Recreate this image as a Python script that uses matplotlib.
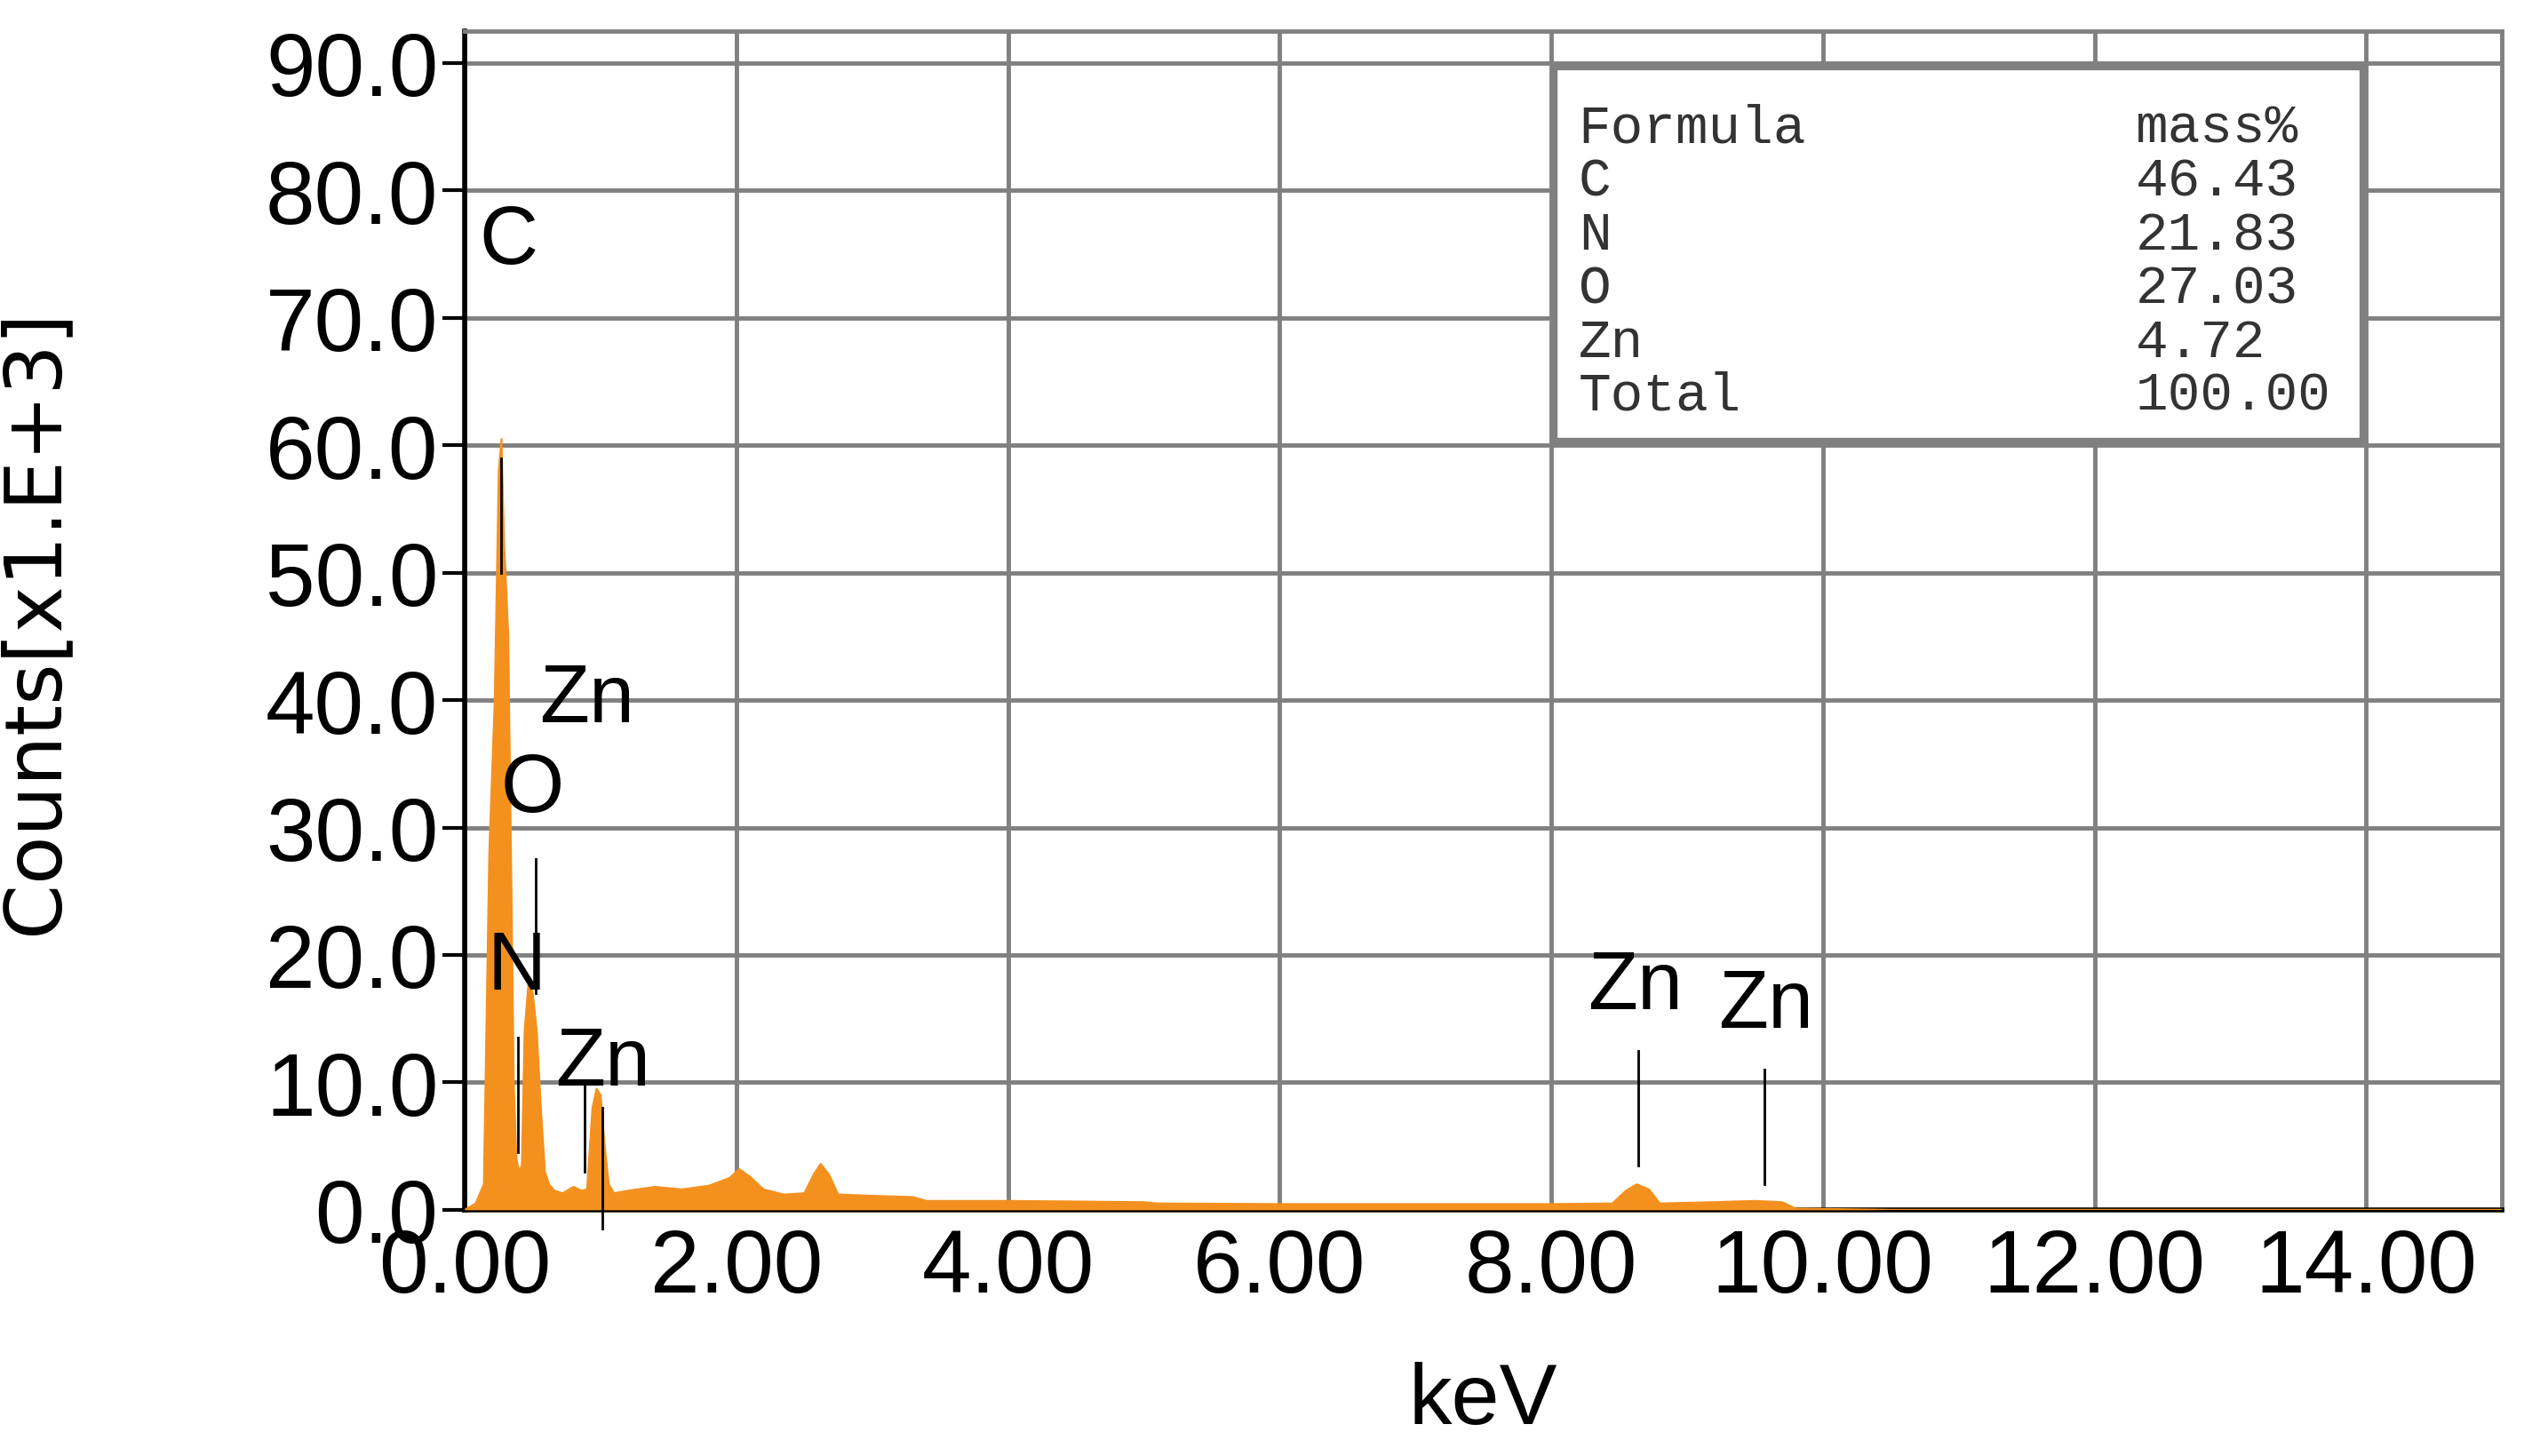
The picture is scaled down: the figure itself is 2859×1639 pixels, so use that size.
import matplotlib
matplotlib.use("Agg")
import matplotlib.pyplot as plt
import numpy as np

energy = [0.0, 0.08, 0.14, 0.18, 0.22, 0.25, 0.27, 0.29, 0.30, 0.32, 0.34, 0.36, 0.38, 0.40, 0.42, 0.44,
          0.47, 0.50, 0.53, 0.56, 0.59, 0.62, 0.66, 0.72, 0.80, 0.86, 0.90, 0.94, 0.97, 1.00, 1.03, 1.06,
          1.10, 1.20, 1.40, 1.60, 1.80, 1.95, 2.02, 2.10, 2.20, 2.35, 2.50, 2.57, 2.62, 2.68, 2.75, 3.00,
          3.30, 3.40, 4.00, 5.00, 5.10, 6.00, 7.00, 8.00, 8.45, 8.55, 8.63, 8.72, 8.80, 9.20, 9.50, 9.70,
          9.80, 10.5, 15.0]
counts = [0.0, 0.5, 2.0, 28.0, 40.0, 58.0, 60.5, 52.0, 50.0, 45.0, 28.0, 10.0, 4.0, 3.0, 3.5, 14.0,
          18.0, 17.0, 14.0, 8.0, 3.0, 2.0, 1.5, 1.3, 1.8, 1.5, 1.6, 8.0, 9.5, 9.0, 5.0, 2.0,
          1.3, 1.5, 1.8, 1.6, 1.9, 2.5, 3.2, 2.6, 1.6, 1.2, 1.3, 2.8, 3.6, 2.8, 1.2, 1.1,
          1.0, 0.7, 0.7, 0.6, 0.5, 0.45, 0.45, 0.45, 0.5, 1.5, 2.0, 1.6, 0.5, 0.6, 0.7, 0.6,
          0.1, 0.0, 0.0]

marker_x = [0.27, 0.39, 0.52, 0.88, 1.01, 8.64, 9.57]
marker_top = [59.0, 13.5, 27.5, 10.0, 8.0, 12.5, 11.0]
marker_bot = [50.0, 4.5, 17.0, 3.0, -1.5, 3.5, 2.0]
label_text = ["C", "Zn", "O", "N", "Zn", "Zn", "Zn"]
label_x = [0.32, 0.90, 0.50, 0.38, 1.02, 8.62, 9.58]
label_y = [76.0, 40.0, 33.0, 19.0, 11.5, 17.5, 16.0]

table_formula = ["Formula", "C", "N", "O", "Zn", "Total"]
table_mass = ["mass%", "46.43", "21.83", "27.03", "4.72", "100.00"]

xticks = [0, 2, 4, 6, 8, 10, 12, 14]
yticks = [0, 10, 20, 30, 40, 50, 60, 70, 80, 90]

orange = "#F4901E"
fig = plt.figure(figsize=(28.59, 16.40), dpi=100)
ax = fig.add_axes([0.183, 0.169, 0.802, 0.809])
ax.set_xlim(0, 15.0)
ax.set_ylim(0, 92.5)
ax.fill_between(energy, counts, 0, color=orange, lw=0, zorder=3)
ax.plot(energy, counts, color=orange, lw=1.5, zorder=3)

for x, t, b in zip(marker_x, marker_top, marker_bot):
    ax.plot([x, x], [b, t], color="black", lw=2, zorder=4, clip_on=False)
for s, x, y in zip(label_text, label_x, label_y):
    ax.text(x, y, s, fontsize=66, ha="center", va="center", zorder=5,
            family="Liberation Sans")

ax.set_xticks(xticks)
ax.set_xticklabels([f"{v:.2f}" for v in xticks])
ax.set_yticks(yticks)
ax.set_yticklabels([f"{v:.1f}" for v in yticks])
ax.grid(True, color="#808080", lw=3.5, zorder=0)
ax.tick_params(axis="both", labelsize=72, length=18, width=3, color="black")
ax.tick_params(axis="x", length=0, pad=14)
for lab in ax.get_xticklabels() + ax.get_yticklabels():
    lab.set_family("Liberation Sans")
for sp in ["left", "bottom"]:
    ax.spines[sp].set_linewidth(4)
    ax.spines[sp].set_color("black")
for sp in ["top", "right"]:
    ax.spines[sp].set_linewidth(3.5)
    ax.spines[sp].set_color("#808080")
ax.set_xlabel("keV", fontsize=70, family="Liberation Sans")
ax.set_ylabel("Counts[x1.E+3]", fontsize=64, family="Liberation Sans Narrow")
ax.xaxis.set_label_coords(0.5, -0.128)
ax.yaxis.set_label_coords(-0.192, 0.5)

# table box
ax.add_patch(plt.Rectangle((8.02, 60.3), 5.96, 29.4, facecolor="white",
                           edgecolor="#808080", lw=6, zorder=6))
for i, (f, m) in enumerate(zip(table_formula, table_mass)):
    y = 84.9 - i * 4.2
    ax.text(8.2, y, f, fontsize=44, family="Liberation Mono", va="center", zorder=7, color="#333333")
    ax.text(12.3, y, m, fontsize=44, family="Liberation Mono", va="center", zorder=7, color="#333333")

fig.savefig("out.png", dpi=100)
